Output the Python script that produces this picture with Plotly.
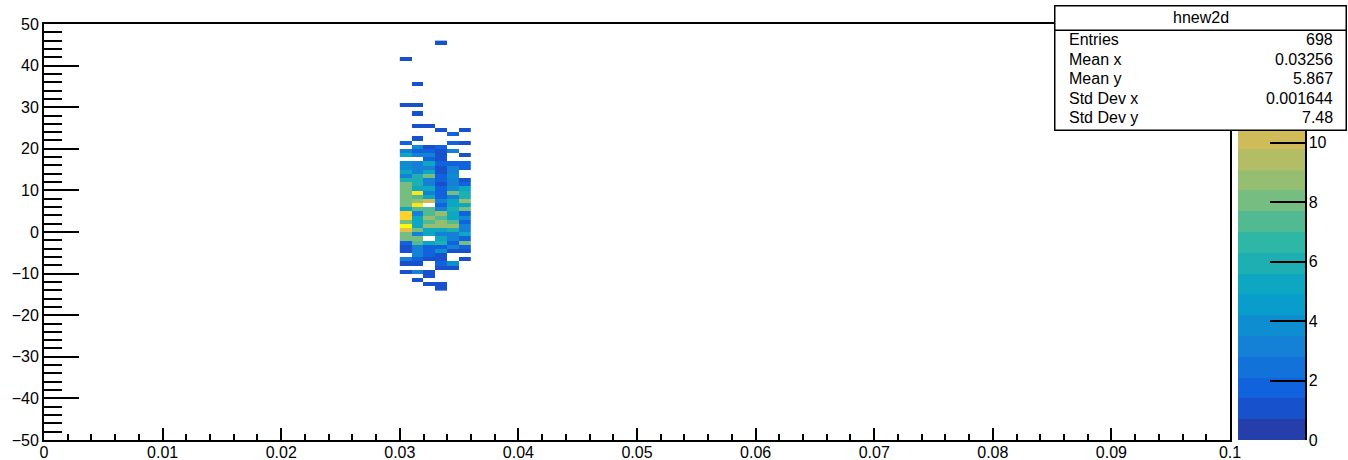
import plotly.graph_objects as go

# ---------------- data ----------------
x_edges = [0.030, 0.031, 0.032, 0.033, 0.034, 0.035, 0.036]
y_edges = list(range(-14, 47))          # 60 bins of width 1, from -14 to 46

# bin contents per x column, listed by y bin from -14 up to 45
counts_x030 = [0, 0, 0, 0, 1, 0, 1, 3, 0, 1,
               1, 2, 8, 8, 11, 14, 8, 12, 12, 5,
               8, 8, 8, 8, 8, 8, 6, 3, 5, 4,
               4, 0, 5, 3, 0, 2, 0, 0, 0, 0,
               0, 0, 0, 0, 1, 0, 0, 0, 0, 0,
               0, 0, 0, 0, 0, 1, 0, 0, 0, 0]
counts_x031 = [0, 0, 1, 0, 3, 0, 1, 2, 3, 3,
               3, 7, 8, 3, 8, 5, 5, 5, 3, 7,
               13, 9, 7, 13, 5, 6, 6, 6, 3, 3,
               3, 0, 3, 2, 4, 0, 1, 0, 0, 1,
               0, 0, 1, 0, 1, 0, 0, 0, 0, 1,
               0, 0, 0, 0, 0, 0, 0, 0, 0, 0]
counts_x032 = [0, 1, 0, 1, 1, 0, 0, 1, 2, 2,
               2, 5, 0, 5, 5, 9, 7, 9, 7, 7,
               0, 10, 5, 3, 5, 3, 3, 8, 5, 3,
               5, 2, 3, 2, 1, 0, 0, 0, 0, 1,
               0, 0, 0, 0, 0, 0, 0, 0, 0, 0,
               0, 0, 0, 0, 0, 0, 0, 0, 0, 0]
counts_x033 = [1, 1, 0, 0, 0, 1, 2, 1, 1, 4,
               2, 6, 5, 3, 5, 9, 9, 7, 9, 3,
               2, 3, 2, 2, 2, 1, 2, 2, 1, 1,
               2, 1, 1, 1, 2, 0, 0, 0, 1, 0,
               0, 0, 0, 0, 0, 0, 0, 0, 0, 0,
               0, 0, 0, 0, 0, 0, 0, 0, 0, 1]
counts_x034 = [0, 0, 0, 0, 0, 1, 4, 0, 0, 1,
               3, 2, 3, 3, 6, 9, 7, 5, 5, 6,
               5, 5, 3, 8, 4, 3, 3, 4, 3, 3,
               2, 0, 0, 3, 0, 2, 0, 2, 0, 0,
               0, 0, 0, 0, 0, 0, 0, 0, 0, 0,
               0, 0, 0, 0, 0, 0, 0, 0, 0, 0]
counts_x035 = [0, 0, 0, 0, 0, 0, 0, 1, 0, 1,
               2, 8, 2, 5, 3, 3, 2, 4, 2, 8,
               5, 9, 6, 6, 5, 2, 1, 0, 0, 2,
               2, 0, 1, 0, 0, 1, 0, 0, 1, 0,
               0, 0, 0, 0, 0, 0, 0, 0, 0, 0,
               0, 0, 0, 0, 0, 0, 0, 0, 0, 0]

x_tick_vals = [0, 0.01, 0.02, 0.03, 0.04, 0.05, 0.06, 0.07, 0.08, 0.09, 0.1]
x_tick_text = ["0", "0.01", "0.02", "0.03", "0.04", "0.05", "0.06", "0.07", "0.08", "0.09", "0.1"]
z_tick_vals = [0, 2, 4, 6, 8, 10]

stats_title = "hnew2d"
stats_labels = ["Entries", "Mean x", "Mean y", "Std Dev x", "Std Dev y"]
stats_values = ["698", "0.03256", "5.867", "0.001644", "7.48"]

z_max = 14
n_contours = 20

# ---------------- kBird palette, 20 contour bands ----------------
stops = [0.0, 0.125, 0.25, 0.375, 0.5, 0.625, 0.75, 0.875, 1.0]
red = [0.2082, 0.0592, 0.0780, 0.0232, 0.1802, 0.5301, 0.8186, 0.9956, 0.9764]
green = [0.1664, 0.3599, 0.5041, 0.6419, 0.7178, 0.7492, 0.7328, 0.7862, 0.9832]
blue = [0.5293, 0.8684, 0.8385, 0.7914, 0.6425, 0.4662, 0.3499, 0.1968, 0.0539]


def bird(f):
    f = min(max(f, 0.0), 1.0)
    for i in range(len(stops) - 1):
        if stops[i] <= f <= stops[i + 1]:
            t = (f - stops[i]) / (stops[i + 1] - stops[i])
            r = red[i] + t * (red[i + 1] - red[i])
            g = green[i] + t * (green[i + 1] - green[i])
            b = blue[i] + t * (blue[i + 1] - blue[i])
            return "rgb(%d,%d,%d)" % (round(r * 255), round(g * 255), round(b * 255))
    return "rgb(0,0,0)"


colorscale = []
for k in range(n_contours):
    c = bird((k + 0.99) / n_contours)
    colorscale.append([k / n_contours, c])
    colorscale.append([(k + 1) / n_contours, c])

columns = [counts_x030, counts_x031, counts_x032, counts_x033, counts_x034, counts_x035]
z = []
for i in range(len(y_edges) - 1):
    z.append([col[i] if col[i] > 0 else None for col in columns])

# ---------------- geometry (pixels) ----------------
W, H = 1348, 460
L, R, T, B = 44, 1230, 24, 440


def px_x(p):
    return (p - L) / (R - L)


def px_y(p):
    return (B - p) / (B - T)


FONT = "Liberation Sans, Arial, Helvetica, sans-serif"

fig = go.Figure()
fig.add_trace(go.Heatmap(
    x=x_edges, y=y_edges, z=z,
    zmin=0, zmax=z_max,
    colorscale=colorscale,
    hoverongaps=False,
    colorbar=dict(
        thickness=67, thicknessmode="pixels",
        x=px_x(1238), xanchor="left", xpad=0,
        y=0.5, yanchor="middle", len=1, lenmode="fraction", ypad=0,
        outlinewidth=0,
        ticks="inside", ticklen=35, tickwidth=1.5, tickcolor="black",
        tickmode="array", tickvals=z_tick_vals,
        tickfont=dict(family=FONT, size=16, color="black"),
    ),
))

fig.update_xaxes(
    range=[0, 0.1], tickmode="array", tickvals=x_tick_vals, ticktext=x_tick_text,
    ticks="inside", ticklen=12, tickwidth=1.5, tickcolor="black",
    minor=dict(dtick=0.002, tick0=0, ticks="inside", ticklen=6, tickwidth=1.5,
               tickcolor="black", showgrid=False),
    showline=True, linewidth=2, linecolor="black", mirror=True,
    showgrid=False, zeroline=False, ticklabelstandoff=-3,
    tickfont=dict(family=FONT, size=16, color="black"),
)
fig.update_yaxes(
    range=[-50, 50], tick0=0, dtick=10,
    ticks="inside", ticklen=35, tickwidth=1.5, tickcolor="black",
    minor=dict(dtick=2, tick0=0, ticks="inside", ticklen=18, tickwidth=1.5,
               tickcolor="black", showgrid=False),
    showline=True, linewidth=2, linecolor="black", mirror=True,
    showgrid=False, zeroline=False,
    tickfont=dict(family=FONT, size=16, color="black"),
)

# right edge line of the palette
shapes = [dict(type="line", xref="paper", yref="paper",
               x0=px_x(1306), x1=px_x(1306), y0=0, y1=1,
               line=dict(color="black", width=2))]

# statistics box (annotations are drawn above the colour bar)
annotations = []
bw = 1.5
box_l, box_r = 1054, 1347
box_t, box_mid, box_b = 4.5, 29, 130
annotations.append(dict(
    xref="paper", yref="paper", x=px_x(box_l), y=px_y(box_mid - bw), xanchor="left", yanchor="top",
    text=" ", showarrow=False, width=box_r - box_l - 2 * bw, height=box_b - box_mid - bw,
    bgcolor="white", bordercolor="black", borderwidth=bw, borderpad=0,
))
annotations.append(dict(
    xref="paper", yref="paper", x=px_x(box_l), y=px_y(box_t), xanchor="left", yanchor="top",
    text=" ", showarrow=False, width=box_r - box_l - 2 * bw, height=box_mid - box_t - bw,
    bgcolor="white", bordercolor="black", borderwidth=bw, borderpad=0,
))
annotations.append(dict(
    xref="paper", yref="paper", x=px_x((box_l + box_r) / 2), y=px_y(17.5),
    xanchor="center", yanchor="middle", text=stats_title, showarrow=False,
    font=dict(family=FONT, size=16, color="black"),
))
row_y = [40, 59.5, 79, 98.5, 118]
for lab, val, yy in zip(stats_labels, stats_values, row_y):
    annotations.append(dict(
        xref="paper", yref="paper", x=px_x(1067), y=px_y(yy),
        xanchor="left", yanchor="middle", text=lab, showarrow=False,
        font=dict(family=FONT, size=16, color="black"),
    ))
    annotations.append(dict(
        xref="paper", yref="paper", x=px_x(1335), y=px_y(yy),
        xanchor="right", yanchor="middle", text=val, showarrow=False,
        font=dict(family=FONT, size=16, color="black"),
    ))

fig.update_layout(
    width=W, height=H,
    margin=dict(l=L, r=W - R, t=T, b=H - B, autoexpand=False),
    paper_bgcolor="white", plot_bgcolor="white",
    font=dict(family=FONT, size=16, color="black"),
    shapes=shapes, annotations=annotations,
    showlegend=False,
)

fig.write_html(
    "out.html",
    config={"displayModeBar": False},
    post_script="document.body.style.margin='0px';document.body.style.overflow='hidden';",
)
